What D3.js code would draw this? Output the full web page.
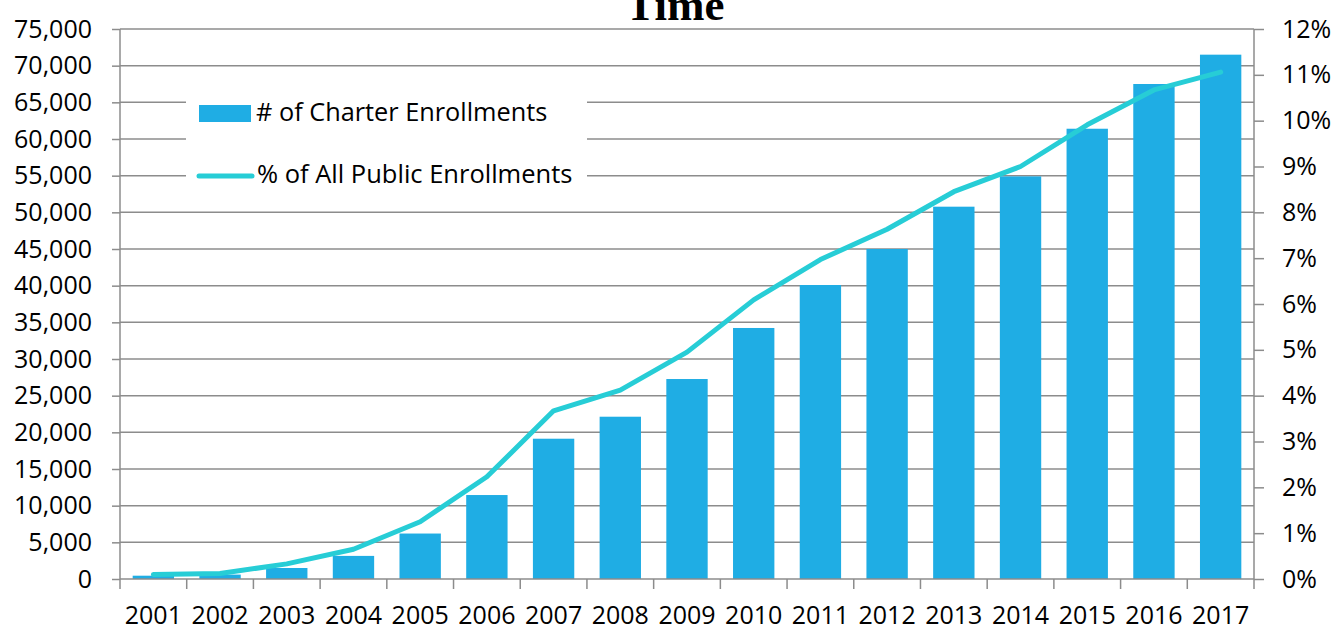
<!DOCTYPE html>
<html>
<head>
<title>Charter Enrollments</title>
<style>
    body { margin: 0; background: #fff; font-family: "Open Sans", sans-serif; }
    .tick text { font-family: "Open Sans", sans-serif; font-size: 25px; fill: #000; }
    .title { font-family: "Liberation Serif", serif; font-weight: bold; font-size: 45px; }
</style>
<script src="https://d3js.org/d3.v7.min.js"></script>
</head>
<body>
<script>
// data
var years = ["2001","2002","2003","2004","2005","2006","2007","2008","2009",
             "2010","2011","2012","2013","2014","2015","2016","2017"];
var enrollments = [450, 600, 1500, 3150, 6200, 11450, 19130, 22130, 27270,
                   34230, 40090, 45000, 50770, 54900, 61400, 67500, 71500];
var pctPublic = [0.10, 0.12, 0.33, 0.65, 1.25, 2.23, 3.67, 4.12, 4.95,
                 6.09, 6.97, 7.63, 8.45, 9.0, 9.91, 10.67, 11.06];
var leftTicks = d3.range(0, 75001, 5000);
var rightTicks = d3.range(0, 13, 1);

var width = 1336, height = 627;
var plotL = 120, plotR = 1254, plotT = 29, plotB = 579;
var barColor = "#1fade4", lineColor = "#27cdd6", gridColor = "#8c8c8c";

var svg = d3.select("body").append("svg")
    .attr("width", width)
    .attr("height", height);

var x = d3.scaleBand().domain(years).range([plotL, plotR]).paddingInner(0.38).paddingOuter(0.19);
var xc = d3.scaleBand().domain(years).range([plotL, plotR]);
var y = d3.scaleLinear().domain([0, 75000]).range([plotB, plotT]);
var y2 = d3.scaleLinear().domain([0, 12]).range([plotB, plotT]);

// gridlines
svg.append("g").selectAll("line")
    .data(leftTicks.slice(1))
    .enter().append("line")
    .attr("x1", plotL).attr("x2", plotR)
    .attr("y1", d => y(d)).attr("y2", d => y(d))
    .attr("stroke", gridColor).attr("stroke-width", 1.5);

// bars
svg.append("g").selectAll("rect")
    .data(enrollments)
    .enter().append("rect")
    .attr("x", (d, i) => x(years[i]))
    .attr("width", x.bandwidth())
    .attr("y", d => y(d))
    .attr("height", d => plotB - y(d))
    .attr("fill", barColor);

// line
var line = d3.line()
    .x((d, i) => xc(years[i]) + xc.bandwidth() / 2)
    .y(d => y2(d));
svg.append("path")
    .datum(pctPublic)
    .attr("d", line)
    .attr("fill", "none")
    .attr("stroke", lineColor)
    .attr("stroke-width", 5)
    .attr("stroke-linecap", "round")
    .attr("stroke-linejoin", "round");

// axes
var yAxis = d3.axisLeft(y).tickValues(leftTicks).tickSize(8).tickPadding(20)
    .tickFormat(d3.format(","));
var gy = svg.append("g").attr("transform", "translate(" + plotL + ",0)").call(yAxis);

var y2Axis = d3.axisRight(y2).tickValues(rightTicks).tickSize(10).tickPadding(18)
    .tickFormat(d => d + "%");
var gy2 = svg.append("g").attr("transform", "translate(" + plotR + ",0)").call(y2Axis);

var xAxis = d3.axisBottom(xc).tickSize(0).tickPadding(27);
var gx = svg.append("g").attr("transform", "translate(0," + plotB + ")").call(xAxis);
// category boundary ticks
gx.selectAll(".bound")
    .data(years.concat(["end"]))
    .enter().append("line")
    .attr("class", "bound")
    .attr("x1", (d, i) => plotL + i * xc.step())
    .attr("x2", (d, i) => plotL + i * xc.step())
    .attr("y1", 0).attr("y2", 10)
    .attr("stroke", gridColor).attr("stroke-width", 1.5);

[gy, gy2, gx].forEach(function(g) {
    g.select(".domain").attr("stroke", gridColor).attr("stroke-width", 1.5);
    g.selectAll(".tick line").attr("stroke", gridColor).attr("stroke-width", 1.5);
});
gx.select(".domain").attr("d", "M" + plotL + ",0H" + plotR);
gy.select(".domain").attr("d", "M0," + plotT + "V" + plotB);
gy2.select(".domain").attr("d", "M0," + plotT + "V" + plotB);

// title (only the last line is visible)
svg.append("text")
    .attr("class", "title")
    .attr("x", 675).attr("y", 20)
    .attr("text-anchor", "middle")
    .text("Time");

// legend
var legend = svg.append("g");
legend.append("rect")
    .attr("x", 186).attr("y", 76).attr("width", 401).attr("height", 118)
    .attr("fill", "#fff");
legend.append("rect")
    .attr("x", 199).attr("y", 105).attr("width", 52).attr("height", 17)
    .attr("fill", barColor);
legend.append("text")
    .attr("x", 256).attr("y", 121)
    .style("font-size", "25.3px")
    .text("# of Charter Enrollments");
legend.append("line")
    .attr("x1", 199).attr("x2", 252).attr("y1", 176).attr("y2", 176)
    .attr("stroke", lineColor).attr("stroke-width", 5).attr("stroke-linecap", "round");
legend.append("text")
    .attr("x", 257).attr("y", 183)
    .style("font-size", "25.5px")
    .text("% of All Public Enrollments");
</script>
</body>
</html>
